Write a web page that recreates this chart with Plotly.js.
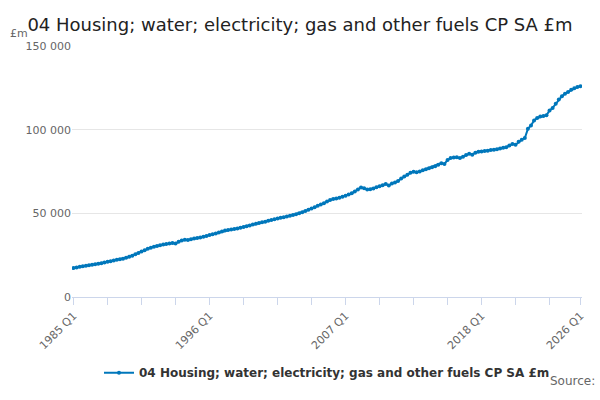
<!DOCTYPE html>
<html><head><meta charset="utf-8">
<script src="https://cdn.plot.ly/plotly-3.0.1.min.js"></script>
<style>body{margin:0}#chart{width:600px;height:400px}</style>
</head><body><div id="chart"></div>
<script>
var startYear = 1985;
var endYear = 2026;
// quarterly values, £m
var values = [
  17300, 17700, 18100, 18400,   // 1985
  18700, 19000, 19300, 19600,   // 1986
  19900, 20200, 20600, 21000,   // 1987
  21400, 21800, 22200, 22500,   // 1988
  22800, 23400, 24000, 24700,   // 1989
  25500, 26300, 27200, 28000,   // 1990
  28800, 29500, 30100, 30500,   // 1991
  30900, 31300, 31600, 32000,   // 1992
  32200, 32000, 33000, 33800,   // 1993
  34200, 34000, 34500, 35000,   // 1994
  35300, 35600, 36000, 36500,   // 1995
  37000, 37500, 38000, 38600,   // 1996
  39200, 39700, 40000, 40300,   // 1997
  40600, 41000, 41400, 41900,   // 1998
  42300, 42800, 43300, 43800,   // 1999
  44200, 44600, 45000, 45500,   // 2000
  46000, 46400, 46900, 47300,   // 2001
  47700, 48100, 48500, 49000,   // 2002
  49500, 50100, 50700, 51400,   // 2003
  52100, 52900, 53700, 54500,   // 2004
  55300, 56100, 57000, 57900,   // 2005
  58600, 58800, 59300, 59900,   // 2006
  60500, 61200, 62000, 63100,   // 2007
  64300, 65500, 65000, 64300,   // 2008
  64400, 64900, 65600, 66200,   // 2009
  66800, 67600, 66700, 67800,   // 2010
  68500, 69300, 70800, 72000,   // 2011
  73000, 74200, 74800, 74500,   // 2012
  75000, 75700, 76400, 77000,   // 2013
  77600, 78200, 79100, 80000,   // 2014
  79500, 81800, 83000, 83300,   // 2015
  83500, 83000, 83800, 84800,   // 2016
  85600, 85000, 86200, 86800,   // 2017
  87000, 87200, 87400, 87800,   // 2018
  88000, 88300, 88700, 89200,   // 2019
  89500, 90500, 91500, 91000,   // 2020
  92800, 94000, 95000, 100500,  // 2021
  102500, 105500, 107000, 107800, // 2022
  108200, 108600, 111500, 113000, // 2023
  115500, 118000, 120000, 121500, // 2024
  122500, 123800, 124800, 125500, // 2025
  126000                        // 2026 Q1
];
var seriesName = '04 Housing; water; electricity; gas and other fuels CP SA £m';

var quarters = [];
for (var y = startYear; y <= endYear; y++) {
  for (var q = 1; q <= 4; q++) {
    if (quarters.length < values.length) quarters.push(y + ' Q' + q);
  }
}
var tickVals = [];
for (var i = 0; i < quarters.length; i += 11) tickVals.push(quarters[i]);
tickVals.push(quarters[quarters.length - 1]);
var labelVals = ['1985 Q1', '1996 Q1', '2007 Q1', '2018 Q1', '2026 Q1'];
var tickText = tickVals.map(function (v) { return labelVals.indexOf(v) >= 0 ? v : ''; });

var trace = {
  x: quarters, y: values, name: seriesName,
  type: 'scatter', mode: 'lines+markers',
  line: { color: '#0077bb', width: 2 },
  marker: { color: '#0077bb', size: 4 }
};

var layout = {
  width: 600, height: 400,
  font: { family: 'DejaVu Sans, sans-serif', color: '#444' },
  title: { text: '04 Housing; water; electricity; gas and other fuels CP SA £m',
           font: { size: 18, color: '#222' }, x: 0.5, y: 0.955 },
  margin: { l: 72, r: 18, t: 46, b: 103 },
  showlegend: true,
  legend: { orientation: 'h', x: 0.5, xanchor: 'center', yanchor: 'middle', y: -0.302,
            font: { size: 12, color: '#333', weight: 'bold' } },
  xaxis: {
    type: 'category', tickmode: 'array', tickvals: tickVals, ticktext: tickText,
    tickangle: -45, ticks: 'outside', ticklen: 7, tickcolor: '#ccd6eb',
    showline: true, linecolor: '#ccd6eb', showgrid: false, automargin: false,
    tickfont: { size: 11, color: '#666' }, range: [-0.5, quarters.length - 0.5]
  },
  yaxis: {
    range: [0, 150000], tickvals: [0, 50000, 100000, 150000],
    ticktext: ['0', '50 000', '100 000', '150 000'], automargin: false,
    gridcolor: '#e6e6e6', zeroline: false,
    tickfont: { size: 11, color: '#666' }
  },
  annotations: [
    { text: '£m', xref: 'paper', yref: 'paper', x: -0.125, y: 1.085,
      xanchor: 'left', showarrow: false, font: { size: 11, color: '#666' } },
    { text: 'Source:', xref: 'paper', yref: 'paper', x: 1.03, y: -0.37,
      xanchor: 'right', showarrow: false, font: { size: 12, color: '#666' } }
  ]
};

Plotly.newPlot('chart', [trace], layout, { displayModeBar: false });
</script></body></html>
